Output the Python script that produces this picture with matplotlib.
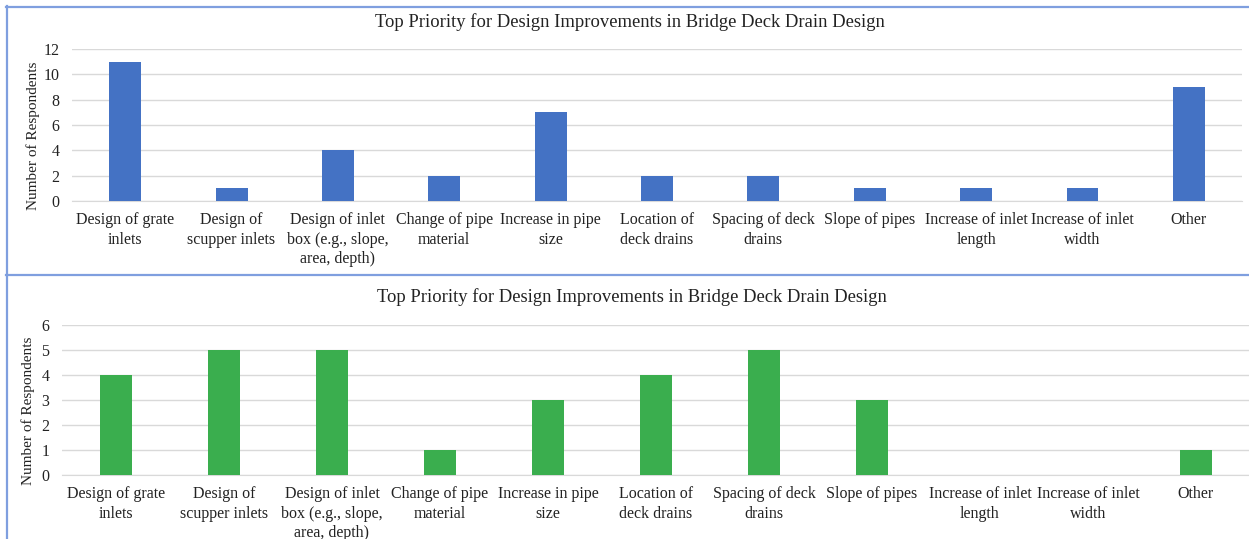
import matplotlib.pyplot as plt
from matplotlib.lines import Line2D

categories = [
    "Design of grate\ninlets",
    "Design of\nscupper inlets",
    "Design of inlet\nbox (e.g., slope,\narea, depth)",
    "Change of pipe\nmaterial",
    "Increase in pipe\nsize",
    "Location of\ndeck drains",
    "Spacing of deck\ndrains",
    "Slope of pipes",
    "Increase of inlet\nlength",
    "Increase of inlet\nwidth",
    "Other",
]
top_counts = [11, 1, 4, 2, 7, 2, 2, 1, 1, 1, 9]
bottom_counts = [4, 5, 5, 1, 3, 4, 5, 3, 0, 0, 1]

title = "Top Priority for Design Improvements in Bridge Deck Drain Design"

plt.rcParams['font.family'] = ['Liberation Serif', 'DejaVu Serif']

W, H = 1249, 539
fig = plt.figure(figsize=(W / 100, H / 100), dpi=100)


def px_axes(left, right, y_bottom, y_top):
    """Create axes from pixel edges (y measured from top of figure)."""
    return fig.add_axes([left / W, 1 - y_bottom / H,
                         (right - left) / W, (y_bottom - y_top) / H])


def bar_panel(ax, counts, color, ymax, step):
    x = range(len(categories))
    ax.bar(x, counts, width=0.3, color=color, zorder=3)
    ax.set_xlim(-0.5, len(categories) - 0.5)
    ax.set_ylim(0, ymax)
    ax.set_yticks(range(0, ymax + 1, step))
    ax.set_xticks(list(x))
    ax.set_xticklabels(categories, fontsize=11.5, linespacing=1.3)
    ax.grid(axis='y', color='#d9d9d9', linewidth=1, zorder=0)
    for side in ['top', 'right', 'left']:
        ax.spines[side].set_visible(False)
    ax.spines['bottom'].set_color('#d9d9d9')
    ax.tick_params(axis='both', length=0, labelsize=11.5, colors='#222222')
    ax.tick_params(axis='x', pad=8)
    ax.tick_params(axis='y', pad=9)
    ax.set_ylabel("Number of Respondents", fontsize=11, color='#222222')


ax1 = px_axes(72, 1242, 201, 49)
bar_panel(ax1, top_counts, '#4472c4', 12, 2)
ax1.yaxis.set_label_coords(-32 / 1170, 0.43)
fig.text(630 / W, 1 - 22 / H, title, ha='center', va='center',
         fontsize=13.4, color='#222222')

ax2 = px_axes(62, 1250, 475, 325)
bar_panel(ax2, bottom_counts, '#3aae4e', 6, 1)
ax2.yaxis.set_label_coords(-27 / 1188, 0.43)
fig.text(632 / W, 1 - 297 / H, title, ha='center', va='center',
         fontsize=13.4, color='#222222')

# panel borders
border = '#7f9fdf'
fig.add_artist(Line2D([6 / W, 1], [1 - 6.5 / H] * 2, color=border, lw=1.6))
fig.add_artist(Line2D([6.5 / W] * 2, [0, 1 - 6 / H], color=border, lw=1.6))
fig.add_artist(Line2D([6 / W, 1], [1 - 274.5 / H] * 2, color=border, lw=1.6))

fig.savefig("out.png", dpi=100)
